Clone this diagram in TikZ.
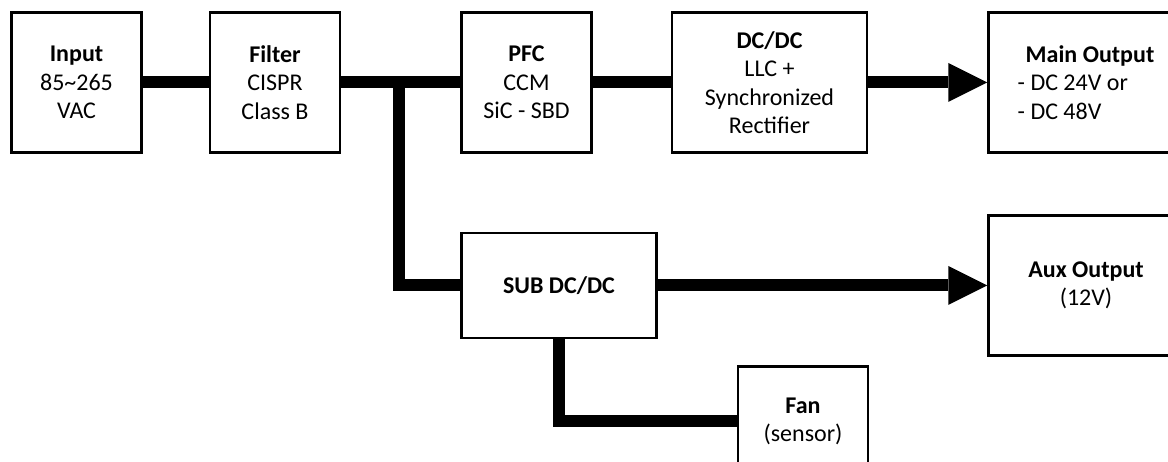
\documentclass[tikz,border=0pt]{standalone}
\usepackage{fontspec}
\setmainfont{Carlito}
\usetikzlibrary{positioning,arrows.meta}

\begin{document}
\begin{tikzpicture}[
    x=1pt, y=1pt,
    box/.style={rectangle, draw, line width=2.5pt, inner sep=0pt, align=center, minimum width=130pt, minimum height=140pt, font=\fontsize{24}{28.5}\selectfont},
    widebox/.style={box, minimum width=195pt},
    line/.style={line width=12pt},
    arrow/.style={line, -{Triangle[length=39pt, width=39pt, line width=0pt]}}
]
    \useasboundingbox (0,0) rectangle (1168,462);
    \clip (0,0) rectangle (1168,462);

    \node[box] (input) at (76.5,379.5) {\textbf{Input}\\85\textasciitilde265\\VAC};
    \node[box, right=66pt of input] (filter) {\textbf{Filter}\\CISPR\\Class B};
    \node[box, right=119pt of filter] (pfc) {\textbf{PFC}\\CCM\\SiC - SBD};
    \node[widebox, right=78pt of pfc] (dcdc) {\textbf{DC/DC}\\LLC +\\Synchronized\\Rectifier};
    \node[widebox, right=119pt of dcdc, align=left] (main) {\hspace*{8pt}\textbf{Main Output}\\- DC 24V or\\- DC 48V\hspace*{4pt}};
    \node[widebox, minimum height=105pt, below right=78pt and 0pt of pfc.south west] (sub) {\textbf{SUB DC/DC}};
    \node[widebox] (aux) at (main |- sub) {\textbf{Aux Output}\\(12V)};
    \node[box, minimum height=110pt, below right=26pt and 79pt of sub.south east] (fan) {\textbf{Fan}\\(sensor)};

    \coordinate (tap) at ([xshift=58pt]filter.east);

    \draw[line] (input) -- (filter);
    \draw[line] (filter) -- (pfc);
    \draw[line] (pfc) -- (dcdc);
    \draw[arrow] (dcdc) -- (main);
    \draw[line] (tap) |- (sub);
    \draw[arrow] (sub) -- (aux);
    \draw[line] (sub) |- (fan);
\end{tikzpicture}
\end{document}
